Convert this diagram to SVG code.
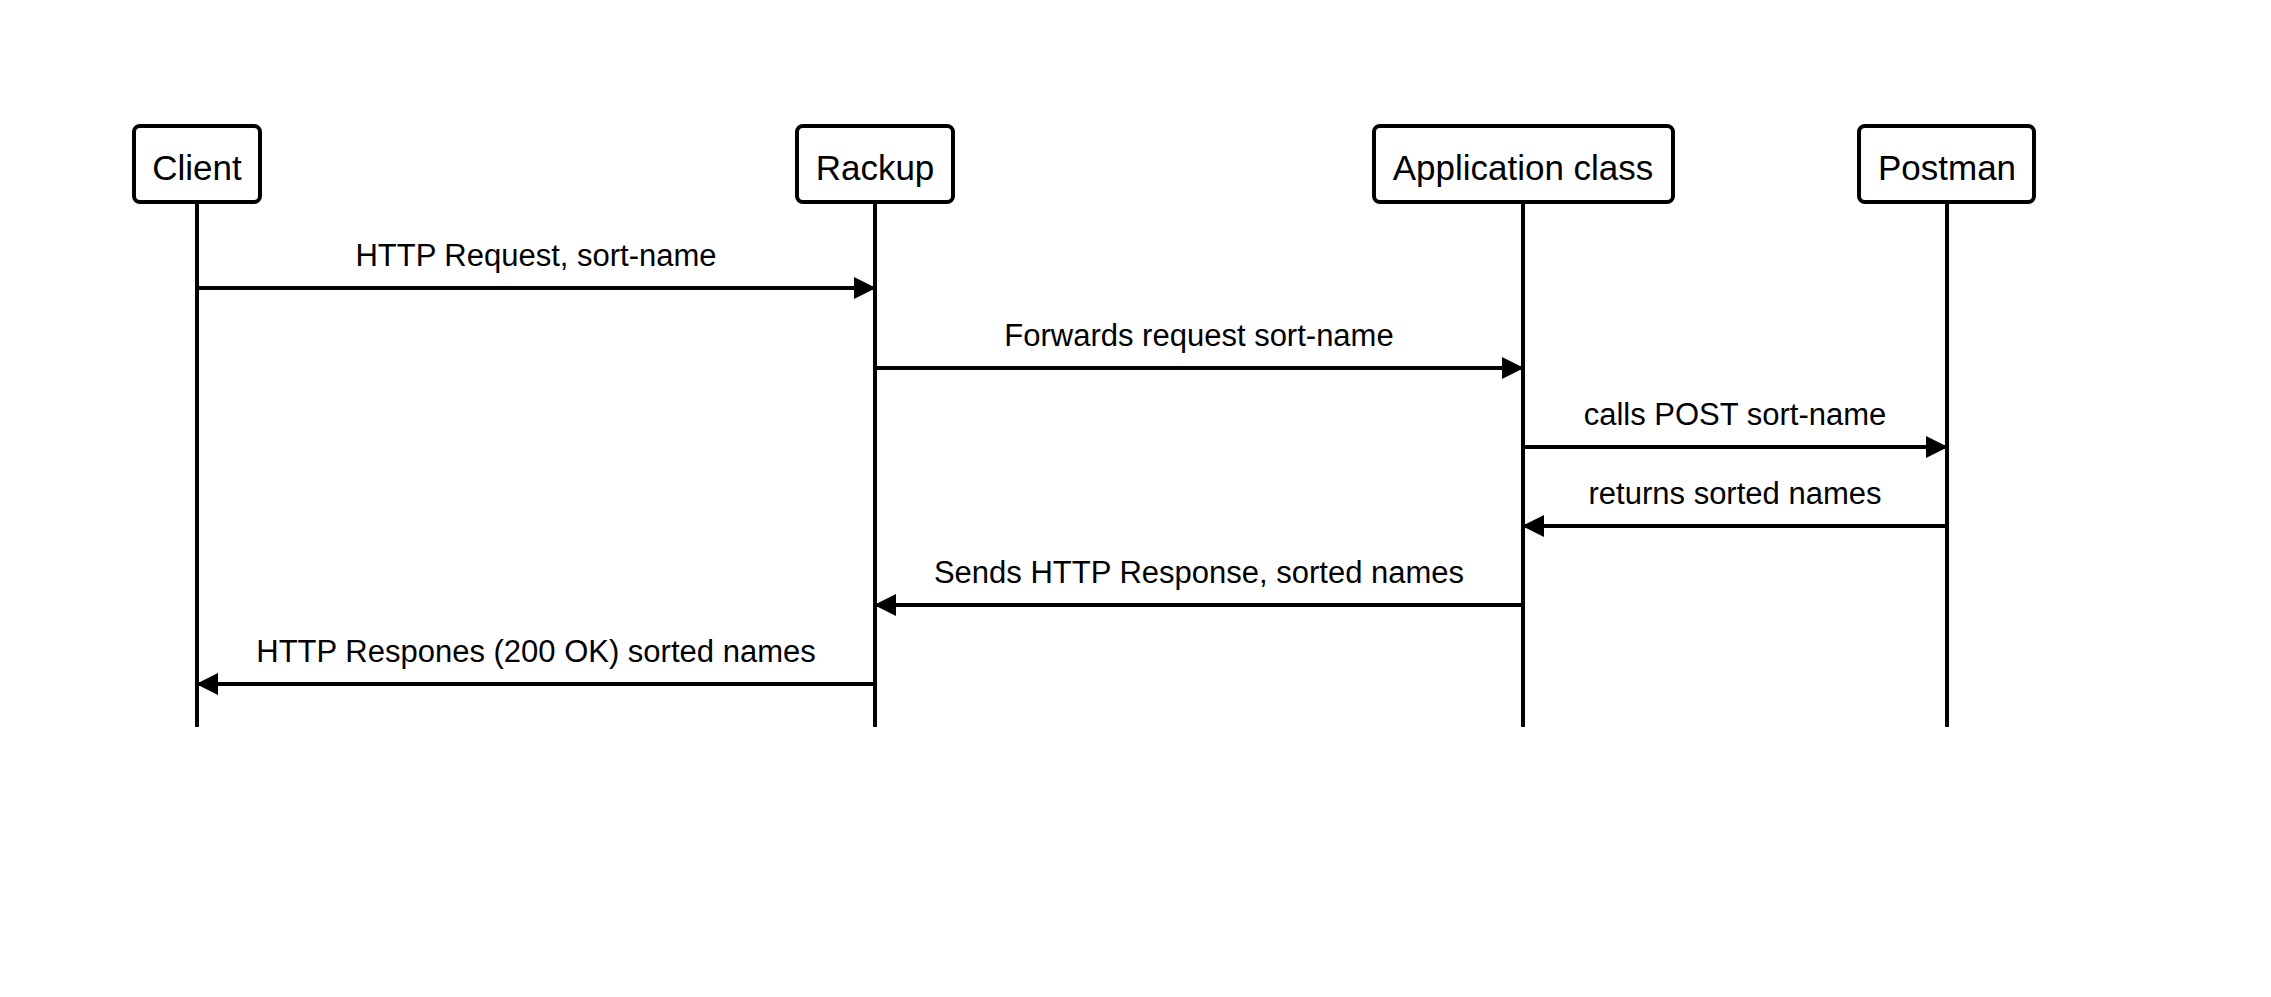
<svg xmlns="http://www.w3.org/2000/svg" width="2271" height="997" viewBox="0 0 2271 997">
<style>
.box{fill:#fff;stroke:#000;stroke-width:4}
.life{stroke:#000;stroke-width:4}
.msg{stroke:#000;stroke-width:4;fill:none}
.nt{font-family:"Liberation Sans",Arial,sans-serif;font-size:35px;text-anchor:middle;fill:#000}
.lt{font-family:"Liberation Sans",Arial,sans-serif;font-size:31px;text-anchor:middle;fill:#000}
</style>
<defs>
<marker id="ah" markerWidth="22" markerHeight="22" refX="21" refY="11" orient="auto" markerUnits="userSpaceOnUse">
<path d="M0,0 L22,11 L0,22 Z" fill="#000"/>
</marker>
</defs>
<rect width="2271" height="997" fill="#fff"/>
<g id="lifelines">
<line class="life" x1="197" y1="202" x2="197" y2="727"/>
<line class="life" x1="875" y1="202" x2="875" y2="727"/>
<line class="life" x1="1523" y1="202" x2="1523" y2="727"/>
<line class="life" x1="1947" y1="202" x2="1947" y2="727"/>
</g>
<g id="client"><rect class="box" x="134" y="126" width="126" height="76" rx="6"/><text class="nt" x="197" y="180">Client</text></g>
<g id="rackup"><rect class="box" x="797" y="126" width="156" height="76" rx="6"/><text class="nt" x="875" y="180">Rackup</text></g>
<g id="app"><rect class="box" x="1374" y="126" width="299" height="76" rx="6"/><text class="nt" x="1523" y="180">Application class</text></g>
<g id="postman"><rect class="box" x="1859" y="126" width="175" height="76" rx="6"/><text class="nt" x="1947" y="180">Postman</text></g>
<g id="connectors">
<line class="msg" x1="197" y1="288" x2="875" y2="288" marker-end="url(#ah)"/>
<text class="lt" x="536" y="266">HTTP Request, sort-name</text>
<line class="msg" x1="875" y1="368" x2="1523" y2="368" marker-end="url(#ah)"/>
<text class="lt" x="1199" y="346">Forwards request sort-name</text>
<line class="msg" x1="1523" y1="447" x2="1947" y2="447" marker-end="url(#ah)"/>
<text class="lt" x="1735" y="425">calls POST sort-name</text>
<line class="msg" x1="1947" y1="526" x2="1523" y2="526" marker-end="url(#ah)"/>
<text class="lt" x="1735" y="504">returns sorted names</text>
<line class="msg" x1="1523" y1="605" x2="875" y2="605" marker-end="url(#ah)"/>
<text class="lt" x="1199" y="583">Sends HTTP Response, sorted names</text>
<line class="msg" x1="875" y1="684" x2="197" y2="684" marker-end="url(#ah)"/>
<text class="lt" x="536" y="662">HTTP Respones (200 OK) sorted names</text>
</g>
</svg>
